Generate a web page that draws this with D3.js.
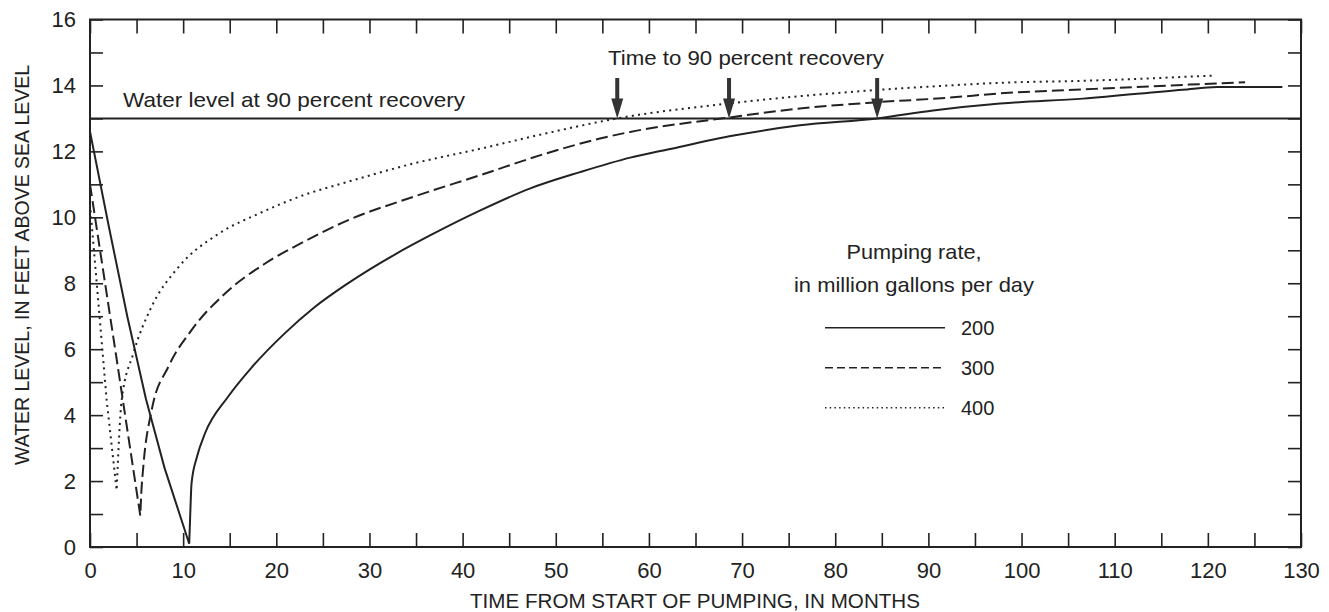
<!DOCTYPE html>
<html>
<head>
<meta charset="utf-8">
<script src="https://cdn.jsdelivr.net/npm/d3@7"></script>
<style>
  html, body { margin: 0; padding: 0; background: #fff; }
  svg { display: block; font-family: "Liberation Sans", Arial, sans-serif; }
  .axis path { display: none; }
  .axis line { stroke: #222; stroke-width: 1.6; }
  .axis text { fill: #222; font-size: 22px; }
</style>
</head>
<body>
<svg id="chart" width="1329" height="612"></svg>
<script>
// Water level response to pumping, by pumping rate (million gallons per day)
const rates = ["200", "300", "400"];

const months200 = [0, 2, 4, 6, 8, 10.65, 10.75, 10.9, 11.5, 12.35, 14.8, 17.4, 20.9, 24.0, 27.6, 32.9, 36.5, 41.9, 47.2, 52.6, 58.0, 61.9, 69.1, 76.2, 84.5, 90.5, 97.7, 106.6, 117.3, 121, 128];
const level200  = [12.6, 9.75, 7.0, 4.5, 2.4, 0.1, 0.9, 1.93, 2.75, 3.45, 4.55, 5.46, 6.48, 7.25, 7.98, 8.9, 9.45, 10.21, 10.87, 11.37, 11.81, 12.05, 12.48, 12.79, 13.0, 13.24, 13.45, 13.6, 13.87, 13.95, 13.95];

const months300 = [0, 2.7, 5.4, 5.5, 5.72, 6.62, 8.4, 10.9, 14.5, 18.8, 22.9, 27.6, 34.7, 41.9, 49.0, 54.75, 58.0, 68.7, 76.2, 83.4, 92.3, 97.7, 106.6, 124];
const level300  = [11.0, 6.0, 0.95, 1.6, 2.43, 4.15, 5.46, 6.58, 7.69, 8.6, 9.25, 9.9, 10.62, 11.28, 11.94, 12.39, 12.59, 13.03, 13.3, 13.47, 13.63, 13.76, 13.88, 14.1];

const months400 = [0, 1.79, 2.86, 3.4, 4.65, 6.6, 9.5, 13.8, 18.1, 22.9, 27.6, 34.7, 41.9, 49.0, 56.6, 69.1, 83.4, 92.3, 97.7, 106.6, 120.6];
const level400  = [10.4, 4.45, 1.72, 4.45, 5.87, 7.28, 8.49, 9.5, 10.11, 10.67, 11.07, 11.63, 12.08, 12.55, 13.0, 13.47, 13.84, 14.0, 14.08, 14.14, 14.3];

const recoveryLevel = 13;              // water level at 90 percent recovery
const recoveryMonths = [56.6, 68.6, 84.5];

const xTicks = d3.range(0, 131, 5);
const xLabels = d3.range(0, 131, 10);
const yTicks = d3.range(0, 17, 1);
const yLabels = d3.range(0, 17, 2);

const dashes = { "200": null, "300": "12,5", "400": "2,4.3" };
const seriesData = [
  { rate: "200", months: months200, levels: level200 },
  { rate: "300", months: months300, levels: level300 },
  { rate: "400", months: months400, levels: level400 }
];

const svg = d3.select("#chart");
const x = d3.scaleLinear().domain([0, 130]).range([90, 1301]);
const y = d3.scaleLinear().domain([0, 16]).range([547, 19.5]);
const ink = "#222";

// frame
svg.append("rect")
  .attr("x", x(0)).attr("y", y(16))
  .attr("width", x(130) - x(0)).attr("height", y(0) - y(16))
  .attr("fill", "none").attr("stroke", ink).attr("stroke-width", 2);

// axes with inward ticks
const fmtX = d => (xLabels.includes(d) ? d : "");
const fmtY = d => (yLabels.includes(d) ? d : "");
svg.append("g").attr("class", "axis").attr("transform", `translate(0,${y(0)})`)
  .call(d3.axisBottom(x).tickValues(xTicks).tickSize(-14).tickPadding(15).tickFormat(fmtX));
svg.append("g").attr("class", "axis").attr("transform", `translate(0,${y(16)})`)
  .call(d3.axisTop(x).tickValues(xTicks).tickSize(-14).tickFormat(""));
svg.append("g").attr("class", "axis").attr("transform", `translate(${x(0)},0)`)
  .call(d3.axisLeft(y).tickValues(yTicks).tickSize(-13).tickPadding(14).tickFormat(fmtY));
svg.append("g").attr("class", "axis").attr("transform", `translate(${x(130)},0)`)
  .call(d3.axisRight(y).tickValues(yTicks).tickSize(-13).tickFormat(""));

// 90 percent recovery level
svg.append("line")
  .attr("x1", x(0)).attr("x2", x(130))
  .attr("y1", y(recoveryLevel)).attr("y2", y(recoveryLevel))
  .attr("stroke", ink).attr("stroke-width", 2);

svg.append("text").attr("x", 123).attr("y", 107)
  .attr("font-size", 21).attr("fill", ink)
  .attr("textLength", 342).attr("lengthAdjust", "spacingAndGlyphs")
  .text("Water level at 90 percent recovery");

// curves: straight drawdown to the low point, smooth recovery after it
const lineLin = d3.line().x(d => x(d[0])).y(d => y(d[1]));
const lineSmooth = d3.line().x(d => x(d[0])).y(d => y(d[1])).curve(d3.curveMonotoneX);

seriesData.forEach(s => {
  const pts = s.months.map((m, i) => [m, s.levels[i]]);
  const low = d3.minIndex(s.levels);
  const path = lineLin(pts.slice(0, low + 1)) + lineSmooth(pts.slice(low)).replace(/^M[^LC]*/, "");
  svg.append("path")
    .attr("d", path)
    .attr("fill", "none")
    .attr("stroke", ink)
    .attr("stroke-width", 2)
    .attr("stroke-dasharray", dashes[s.rate]);
});

// arrows marking time to 90 percent recovery
const arrows = svg.append("g");
recoveryMonths.forEach(m => {
  const cx = x(m), tip = y(recoveryLevel);
  arrows.append("rect")
    .attr("x", cx - 2).attr("y", 78).attr("width", 4).attr("height", tip - 78 - 14)
    .attr("fill", "#333");
  arrows.append("path")
    .attr("d", `M${cx - 6},${tip - 20} L${cx + 6},${tip - 20} L${cx},${tip} Z`)
    .attr("fill", "#333");
});
svg.append("text").attr("x", 608).attr("y", 65)
  .attr("font-size", 21).attr("fill", ink)
  .attr("textLength", 276).attr("lengthAdjust", "spacingAndGlyphs")
  .text("Time to 90 percent recovery");

// legend
const lg = svg.append("g").attr("fill", ink).attr("font-size", 21);
lg.append("text").attr("x", 914).attr("y", 259).attr("text-anchor", "middle")
  .attr("textLength", 135).attr("lengthAdjust", "spacingAndGlyphs").text("Pumping rate,");
lg.append("text").attr("x", 914).attr("y", 292).attr("text-anchor", "middle")
  .attr("textLength", 240).attr("lengthAdjust", "spacingAndGlyphs").text("in million gallons per day");
const legY = d3.scalePoint().domain(rates).range([327.7, 407.7]);
rates.forEach(r => {
  lg.append("line")
    .attr("x1", 825).attr("x2", 945)
    .attr("y1", legY(r)).attr("y2", legY(r))
    .attr("stroke", ink).attr("stroke-width", 1.6)
    .attr("stroke-dasharray", r === "400" ? "1.5,3.2" : (r === "300" ? "8,4" : null));
  lg.append("text").attr("x", 961).attr("y", legY(r) + 7).attr("font-size", 20).text(r);
});

// axis titles
svg.append("text")
  .attr("x", 695).attr("y", 608).attr("text-anchor", "middle")
  .attr("font-size", 20).attr("fill", ink)
  .attr("textLength", 450).attr("lengthAdjust", "spacingAndGlyphs")
  .text("TIME FROM START OF PUMPING, IN MONTHS");
svg.append("text")
  .attr("transform", "translate(29,265) rotate(-90)")
  .attr("text-anchor", "middle")
  .attr("font-size", 20).attr("fill", ink)
  .attr("textLength", 400).attr("lengthAdjust", "spacingAndGlyphs")
  .text("WATER LEVEL, IN FEET ABOVE SEA LEVEL");
</script>
</body>
</html>
